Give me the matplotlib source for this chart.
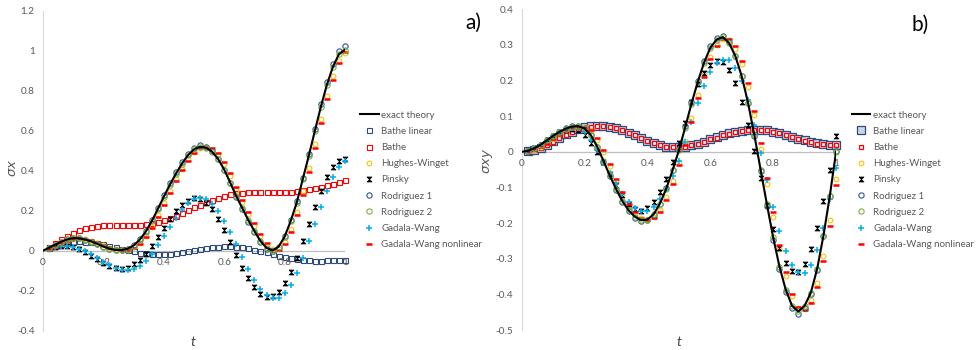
import matplotlib
matplotlib.use("Agg")
import matplotlib.pyplot as plt

plt.rcParams['font.family'] = ['Lato', 'DejaVu Sans']

# --- data ---------------------------------------------------------------
t_pts = [0.02, 0.04, 0.06, 0.08, 0.10, 0.12, 0.14, 0.16, 0.18, 0.20,
         0.22, 0.24, 0.26, 0.28, 0.30, 0.32, 0.34, 0.36, 0.38, 0.40,
         0.42, 0.44, 0.46, 0.48, 0.50, 0.52, 0.54, 0.56, 0.58, 0.60,
         0.62, 0.64, 0.66, 0.68, 0.70, 0.72, 0.74, 0.76, 0.78, 0.80,
         0.82, 0.84, 0.86, 0.88, 0.90, 0.92, 0.94, 0.96, 0.98, 1.00]
t_line = [0.0] + t_pts

series_names = ['exact theory', 'Bathe linear', 'Bathe', 'Hughes-Winget', 'Pinsky',
                'Rodriguez 1', 'Rodriguez 2', 'Gadala-Wang', 'Gadala-Wang nonlinear']

# a) sigma_x
exact_a = [0.000, 0.015, 0.030, 0.045, 0.057, 0.063, 0.062, 0.056, 0.046, 0.034, 0.021,
           0.010, 0.004, 0.003, 0.010, 0.026, 0.055, 0.095, 0.148, 0.208, 0.270,
           0.330, 0.385, 0.435, 0.478, 0.507, 0.520, 0.515, 0.495, 0.458, 0.405,
           0.340, 0.272, 0.212, 0.152, 0.098, 0.048, 0.014, 0.001, 0.020, 0.070,
           0.148, 0.240, 0.357, 0.475, 0.598, 0.720, 0.830, 0.920, 0.983, 1.005]
bathe_lin_a = [0.012, 0.022, 0.032, 0.040, 0.045, 0.047, 0.046, 0.043, 0.038, 0.032,
               0.025, 0.018, 0.010, 0.003, -0.003, -0.009, -0.013, -0.016, -0.017, -0.016,
               -0.014, -0.010, -0.006, -0.001, 0.004, 0.009, 0.014, 0.018, 0.021, 0.023,
               0.023, 0.021, 0.017, 0.012, 0.006, -0.001, -0.008, -0.016, -0.024, -0.031,
               -0.037, -0.042, -0.046, -0.048, -0.049, -0.049, -0.048, -0.047, -0.046, -0.044]
bathe_a = [0.020, 0.040, 0.058, 0.075, 0.090, 0.104, 0.114, 0.121, 0.125, 0.127,
           0.128, 0.129, 0.129, 0.129, 0.130, 0.131, 0.133, 0.137, 0.144, 0.153,
           0.164, 0.176, 0.190, 0.204, 0.218, 0.231, 0.244, 0.256, 0.266, 0.275,
           0.282, 0.287, 0.290, 0.292, 0.293, 0.293, 0.293, 0.293, 0.294, 0.295,
           0.296, 0.298, 0.302, 0.307, 0.313, 0.320, 0.327, 0.335, 0.343, 0.352]
hw_a = [0.010, 0.023, 0.038, 0.051, 0.060, 0.063, 0.059, 0.051, 0.040, 0.028,
        0.016, 0.007, 0.003, 0.006, 0.017, 0.040, 0.075, 0.120, 0.177, 0.238,
        0.300, 0.357, 0.410, 0.457, 0.493, 0.514, 0.518, 0.505, 0.478, 0.432,
        0.372, 0.305, 0.242, 0.182, 0.125, 0.072, 0.030, 0.007, 0.010, 0.045,
        0.108, 0.192, 0.298, 0.415, 0.535, 0.660, 0.775, 0.875, 0.950, 0.990]
pinsky_a = [0.012, 0.020, 0.024, 0.025, 0.020, 0.008, -0.008, -0.025, -0.043, -0.062,
            -0.078, -0.088, -0.090, -0.084, -0.068, -0.045, -0.015, 0.025, 0.068, 0.112,
            0.158, 0.198, 0.230, 0.250, 0.262, 0.260, 0.240, 0.207, 0.158, 0.103,
            0.045, -0.022, -0.085, -0.138, -0.183, -0.215, -0.230, -0.228, -0.205, -0.163,
            -0.105, -0.035, 0.050, 0.133, 0.220, 0.298, 0.368, 0.418, 0.447, 0.457]
rod1_a = [0.015, 0.031, 0.046, 0.058, 0.064, 0.063, 0.056, 0.046, 0.033, 0.020,
          0.009, 0.003, 0.003, 0.011, 0.028, 0.058, 0.099, 0.153, 0.214, 0.277,
          0.338, 0.393, 0.443, 0.486, 0.515, 0.527, 0.520, 0.498, 0.460, 0.405,
          0.338, 0.268, 0.207, 0.146, 0.092, 0.043, 0.010, 0.000, 0.021, 0.073,
          0.153, 0.247, 0.366, 0.486, 0.610, 0.734, 0.845, 0.936, 0.998, 1.025]
rod2_a = [0.015, 0.030, 0.045, 0.057, 0.063, 0.062, 0.056, 0.046, 0.034, 0.021,
          0.010, 0.004, 0.003, 0.010, 0.026, 0.055, 0.095, 0.148, 0.208, 0.270,
          0.330, 0.385, 0.435, 0.478, 0.507, 0.520, 0.515, 0.495, 0.458, 0.405,
          0.340, 0.272, 0.212, 0.152, 0.098, 0.048, 0.014, 0.001, 0.020, 0.070,
          0.148, 0.240, 0.357, 0.475, 0.598, 0.720, 0.830, 0.920, 0.983, 1.003]
gw_a = [0.010, 0.018, 0.022, 0.022, 0.018, 0.010, -0.002, -0.018, -0.036, -0.055,
        -0.073, -0.087, -0.096, -0.097, -0.090, -0.075, -0.050, -0.015, 0.027, 0.072,
        0.118, 0.162, 0.203, 0.237, 0.258, 0.265, 0.258, 0.235, 0.197, 0.148,
        0.092, 0.032, -0.030, -0.090, -0.145, -0.190, -0.222, -0.238, -0.235, -0.210,
        -0.170, -0.110, -0.035, 0.050, 0.135, 0.220, 0.300, 0.370, 0.420, 0.450]
gwn_a = [0.008, 0.021, 0.036, 0.049, 0.059, 0.063, 0.060, 0.052, 0.042, 0.030,
         0.018, 0.008, 0.003, 0.005, 0.014, 0.035, 0.068, 0.112, 0.167, 0.228,
         0.290, 0.350, 0.403, 0.450, 0.488, 0.512, 0.520, 0.512, 0.488, 0.445,
         0.388, 0.320, 0.255, 0.195, 0.138, 0.083, 0.038, 0.010, 0.006, 0.035,
         0.095, 0.178, 0.280, 0.395, 0.515, 0.640, 0.760, 0.855, 0.937, 0.995]

# b) sigma_xy
exact_b = [0.000, 0.003, 0.010, 0.020, 0.032, 0.045, 0.056, 0.065, 0.071, 0.072, 0.066,
           0.047, 0.015, -0.025, -0.066, -0.104, -0.138, -0.164, -0.182, -0.192, -0.190,
           -0.175, -0.145, -0.103, -0.052, 0.004, 0.068, 0.135, 0.196, 0.250, 0.292,
           0.315, 0.322, 0.305, 0.268, 0.212, 0.138, 0.048, -0.050, -0.147, -0.240,
           -0.322, -0.387, -0.432, -0.448, -0.432, -0.395, -0.328, -0.235, -0.125, 0.000]
bathe_lin_b = [0.002, 0.006, 0.012, 0.020, 0.030, 0.040, 0.049, 0.057, 0.064, 0.069,
               0.072, 0.073, 0.072, 0.070, 0.066, 0.061, 0.054, 0.046, 0.038, 0.030,
               0.024, 0.018, 0.014, 0.013, 0.013, 0.015, 0.018, 0.023, 0.029, 0.035,
               0.041, 0.047, 0.052, 0.056, 0.059, 0.061, 0.062, 0.062, 0.060, 0.057,
               0.052, 0.047, 0.042, 0.037, 0.032, 0.027, 0.024, 0.021, 0.019, 0.018]
bathe_b = [0.002, 0.006, 0.012, 0.020, 0.029, 0.039, 0.048, 0.056, 0.063, 0.068,
           0.071, 0.072, 0.072, 0.070, 0.066, 0.061, 0.054, 0.046, 0.038, 0.031,
           0.024, 0.019, 0.015, 0.013, 0.013, 0.015, 0.018, 0.023, 0.029, 0.035,
           0.040, 0.046, 0.051, 0.055, 0.059, 0.061, 0.062, 0.062, 0.060, 0.057,
           0.052, 0.047, 0.041, 0.036, 0.031, 0.027, 0.023, 0.021, 0.019, 0.018]
hw_b = [0.001, 0.006, 0.014, 0.025, 0.037, 0.049, 0.060, 0.067, 0.071, 0.070,
        0.058, 0.034, -0.001, -0.041, -0.081, -0.118, -0.148, -0.171, -0.186, -0.191,
        -0.184, -0.163, -0.128, -0.083, -0.030, 0.030, 0.095, 0.159, 0.218, 0.267,
        0.301, 0.318, 0.315, 0.290, 0.246, 0.182, 0.102, 0.009, -0.089, -0.184,
        -0.273, -0.348, -0.405, -0.438, -0.442, -0.417, -0.368, -0.291, -0.191, -0.075]
pinsky_b = [0.003, 0.010, 0.020, 0.032, 0.045, 0.055, 0.062, 0.065, 0.060, 0.046,
            0.025, 0.000, -0.029, -0.062, -0.092, -0.122, -0.145, -0.160, -0.165, -0.158,
            -0.140, -0.112, -0.076, -0.028, 0.025, 0.081, 0.140, 0.190, 0.222, 0.245,
            0.254, 0.252, 0.230, 0.193, 0.140, 0.075, 0.002, -0.073, -0.150, -0.216,
            -0.270, -0.313, -0.335, -0.337, -0.316, -0.274, -0.215, -0.139, -0.050, 0.044]
rod1_b = [0.003, 0.010, 0.020, 0.032, 0.045, 0.057, 0.066, 0.072, 0.073, 0.066,
          0.046, 0.013, -0.028, -0.069, -0.107, -0.141, -0.167, -0.185, -0.195, -0.192,
          -0.176, -0.145, -0.102, -0.050, 0.007, 0.072, 0.139, 0.200, 0.254, 0.296,
          0.319, 0.326, 0.308, 0.270, 0.213, 0.137, 0.045, -0.055, -0.152, -0.246,
          -0.329, -0.394, -0.439, -0.455, -0.438, -0.400, -0.331, -0.236, -0.124, 0.002]
rod2_b = [0.003, 0.010, 0.020, 0.032, 0.045, 0.056, 0.065, 0.071, 0.072, 0.066,
          0.047, 0.015, -0.025, -0.066, -0.104, -0.138, -0.164, -0.182, -0.192, -0.190,
          -0.175, -0.145, -0.103, -0.052, 0.004, 0.068, 0.135, 0.196, 0.250, 0.292,
          0.315, 0.322, 0.305, 0.268, 0.212, 0.138, 0.048, -0.050, -0.147, -0.240,
          -0.322, -0.387, -0.432, -0.448, -0.432, -0.395, -0.328, -0.235, -0.125, 0.000]
gw_b = [0.003, 0.010, 0.020, 0.032, 0.045, 0.056, 0.064, 0.068, 0.066, 0.055,
        0.032, 0.005, -0.028, -0.060, -0.090, -0.118, -0.140, -0.157, -0.166, -0.166,
        -0.155, -0.133, -0.103, -0.068, -0.025, 0.027, 0.083, 0.137, 0.184, 0.224,
        0.248, 0.259, 0.257, 0.236, 0.198, 0.145, 0.075, -0.003, -0.080, -0.155,
        -0.222, -0.278, -0.318, -0.338, -0.340, -0.318, -0.276, -0.214, -0.133, -0.045]
gwn_b = [0.001, 0.005, 0.013, 0.023, 0.035, 0.048, 0.058, 0.067, 0.071, 0.071,
         0.061, 0.039, 0.005, -0.035, -0.076, -0.113, -0.145, -0.169, -0.185, -0.192,
         -0.186, -0.168, -0.135, -0.090, -0.038, 0.020, 0.085, 0.150, 0.210, 0.261,
         0.298, 0.317, 0.318, 0.296, 0.254, 0.194, 0.116, 0.024, -0.074, -0.170,
         -0.261, -0.338, -0.398, -0.436, -0.444, -0.423, -0.378, -0.305, -0.208, -0.094]

xticks = [0, 0.2, 0.4, 0.6, 0.8, 1.0]
xlabels = ['0', '0.2', '0.4', '0.6', '0.8', '1']
yticks_a = [-0.4, -0.2, 0, 0.2, 0.4, 0.6, 0.8, 1.0, 1.2]
ylabels_a = ['-0.4', '-0.2', '0', '0.2', '0.4', '0.6', '0.8', '1', '1.2']
yticks_b = [-0.5, -0.4, -0.3, -0.2, -0.1, 0, 0.1, 0.2, 0.3, 0.4]
ylabels_b = ['-0.5', '-0.4', '-0.3', '-0.2', '-0.1', '0', '0.1', '0.2', '0.3', '0.4']

# --- style --------------------------------------------------------------
NAVY = '#2F4B7C'
RED = '#FF0000'
ORANGE = '#FFC000'
BLUE = '#2F5597'
GREEN = '#7DB343'
CYAN = '#00B0F0'
GREY = '#595959'
hourglass = [(-1, 1), (1, 1), (-1, -1), (1, -1), (-1, 1)]

fig = plt.figure(figsize=(9.76, 3.5), dpi=100)
ax_a = fig.add_axes([0.0441, 0.0551, 0.3094, 0.9143])
ax_b = fig.add_axes([0.5345, 0.0571, 0.3221, 0.9163])


def style_axes(ax, ylim, yticks, ylabels):
    ax.set_xlim(0, 1)
    ax.set_ylim(*ylim)
    for s in ['top', 'right', 'bottom']:
        ax.spines[s].set_visible(False)
    ax.spines['left'].set_color('#D9D9D9')
    ax.spines['left'].set_linewidth(0.8)
    ax.set_xticks([])
    ax.set_yticks(yticks)
    ax.set_yticklabels(ylabels, color=GREY, fontsize=7.2)
    ax.tick_params(axis='y', length=0, pad=6)
    ax.axhline(0, color='#BFBFBF', lw=0.9, zorder=1)
    for x, lbl in zip(xticks, xlabels):
        ax.annotate(lbl, (x, 0), xytext=(0, -5), textcoords='offset points',
                    ha='center', va='top', fontsize=7.2, color=GREY)


def draw(ax, data, big_bathe_lin=False):
    exact, blin, bathe, hw, pin, r1, r2, gw, gwn = data
    ax.plot(t_line, exact, color='black', lw=1.5, label=series_names[0], zorder=6)
    if big_bathe_lin:
        ax.plot(t_pts, blin, ls='none', marker='s', ms=5.5, mfc='#C9D5EA', mec=NAVY,
                mew=0.9, label=series_names[1], clip_on=False, zorder=2)
        ax.plot(t_pts, bathe, ls='none', marker='s', ms=3.5, mfc='white', mec=RED,
                mew=0.9, label=series_names[2], clip_on=False, zorder=3)
    else:
        ax.plot(t_pts, blin, ls='none', marker='s', ms=3.6, mfc='none', mec=NAVY,
                mew=0.8, label=series_names[1], clip_on=False, zorder=2)
        ax.plot(t_pts, bathe, ls='none', marker='s', ms=3.6, mfc='none', mec=RED,
                mew=0.8, label=series_names[2], clip_on=False, zorder=3)
    ax.plot(t_pts, hw, ls='none', marker='o', ms=3.4, mfc='none', mec=ORANGE,
            mew=0.8, label=series_names[3], clip_on=False, zorder=4)
    ax.plot(t_pts, pin, ls='none', marker=hourglass, ms=3.6, color='black',
            mew=0.5, label=series_names[4], clip_on=False, zorder=4)
    ax.plot(t_pts, r1, ls='none', marker='o', ms=3.8, mfc='none', mec=BLUE,
            mew=0.8, label=series_names[5], clip_on=False, zorder=5)
    ax.plot(t_pts, r2, ls='none', marker='o', ms=3.8, mfc='none', mec=GREEN,
            mew=0.8, label=series_names[6], clip_on=False, zorder=5)
    ax.plot(t_pts, gw, ls='none', marker='+', ms=4.2, color=CYAN,
            mew=1.1, label=series_names[7], clip_on=False, zorder=4)
    ax.plot(t_pts, gwn, ls='none', marker='_', ms=5, color=RED,
            mew=1.8, label=series_names[8], clip_on=False, zorder=4)


style_axes(ax_a, (-0.4, 1.2), yticks_a, ylabels_a)
style_axes(ax_b, (-0.5, 0.4), yticks_b, ylabels_b)
draw(ax_a, [exact_a, bathe_lin_a, bathe_a, hw_a, pinsky_a, rod1_a, rod2_a, gw_a, gwn_a])
draw(ax_b, [exact_b, bathe_lin_b, bathe_b, hw_b, pinsky_b, rod1_b, rod2_b, gw_b, gwn_b],
     big_bathe_lin=True)

for ax, x0 in [(ax_a, 0.3689), (ax_b, 0.8726)]:
    ax.legend(loc='center left', bbox_to_anchor=(x0, 0.486), bbox_transform=fig.transFigure,
              frameon=False, fontsize=7, handlelength=1.9, handletextpad=0.3,
              labelspacing=0.74, borderpad=0, borderaxespad=0, labelcolor=GREY)

fig.text(0.0120, 0.52, r'$\sigma x$', rotation=90, ha='center', va='center',
         fontsize=9.5, color=GREY)
fig.text(0.4995, 0.54, r'$\sigma xy$', rotation=90, ha='center', va='center',
         fontsize=9.5, color=GREY)
fig.text(0.198, 0.024, 't', style='italic', ha='center', va='center', fontsize=10, color='#404040')
fig.text(0.696, 0.024, 't', style='italic', ha='center', va='center', fontsize=10, color='#404040')
fig.text(0.485, 0.935, 'a)', ha='center', va='center', fontsize=15)
fig.text(0.943, 0.93, 'b)', ha='center', va='center', fontsize=15)

fig.savefig('out.png', dpi=100)
